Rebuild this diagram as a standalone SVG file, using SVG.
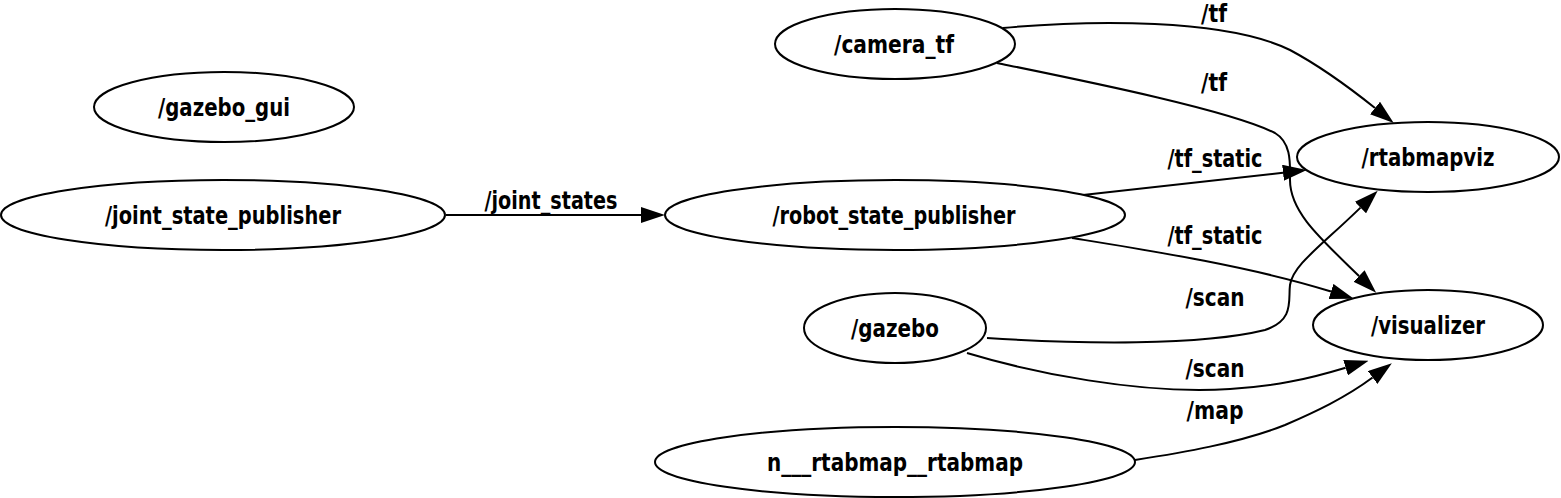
<svg xmlns="http://www.w3.org/2000/svg" width="1561" height="498" viewBox="0 0 1561 498">
<defs>
<style>
.node ellipse{fill:#fff;stroke:#000;stroke-width:2}
text{font-family:"DejaVu Sans","Liberation Sans",sans-serif;font-weight:bold;font-size:25px;fill:#000;text-anchor:middle}
.edges path{fill:none;stroke:#000;stroke-width:2}
</style>
<marker id="arr" viewBox="0 0 24 16" refX="0" refY="8" markerWidth="24" markerHeight="16" markerUnits="userSpaceOnUse" orient="auto">
<path d="M0,0 L24,8 L0,16 z" fill="#000"/>
</marker>
</defs>
<rect width="1561" height="498" fill="#fff"/>
<g class="edges">
<path d="M446,215 L641,215" marker-end="url(#arr)"/>
<text x="551" y="209" textLength="133" lengthAdjust="spacingAndGlyphs">/joint_states</text>
<path d="M1003,28 C1090,20 1225,18 1290,50 C1320,66 1350,88 1375,108" marker-end="url(#arr)"/>
<text x="1214" y="22" textLength="26" lengthAdjust="spacingAndGlyphs">/tf</text>
<path d="M997,63 C1080,80 1230,110 1275,133 C1292,143 1290,165 1290,180 C1290,212 1320,238 1359,276" marker-end="url(#arr)"/>
<text x="1214" y="91" textLength="26" lengthAdjust="spacingAndGlyphs">/tf</text>
<path d="M1083,195 L1283,172.7" marker-end="url(#arr)"/>
<text x="1215" y="167" textLength="95" lengthAdjust="spacingAndGlyphs">/tf_static</text>
<path d="M1072,238 C1140,249 1250,266 1331,291.5" marker-end="url(#arr)"/>
<text x="1215" y="244" textLength="95" lengthAdjust="spacingAndGlyphs">/tf_static</text>
<path d="M987,338 C1080,344 1200,346 1265,330 C1295,320 1288,300 1290,285 C1293,265 1320,247 1360.5,207.6" marker-end="url(#arr)"/>
<text x="1215" y="306" textLength="59" lengthAdjust="spacingAndGlyphs">/scan</text>
<path d="M967,353 C1030,372 1140,395 1230,389 C1275,386 1305,380 1345.6,367.7" marker-end="url(#arr)"/>
<text x="1215" y="377" textLength="59" lengthAdjust="spacingAndGlyphs">/scan</text>
<path d="M1135,460 C1180,453 1240,443 1285,425 C1315,412 1345,398 1372.6,377.5" marker-end="url(#arr)"/>
<text x="1215" y="419" textLength="57" lengthAdjust="spacingAndGlyphs">/map</text>
</g>
<g id="gazebo_gui" class="node"><ellipse cx="224" cy="107" rx="130" ry="35"/><text x="224" y="116" textLength="132" lengthAdjust="spacingAndGlyphs">/gazebo_gui</text></g>
<g id="joint_state_publisher" class="node"><ellipse cx="223" cy="215" rx="222" ry="35"/><text x="223" y="224" textLength="236" lengthAdjust="spacingAndGlyphs">/joint_state_publisher</text></g>
<g id="robot_state_publisher" class="node"><ellipse cx="895" cy="215" rx="230" ry="35"/><text x="894" y="224" textLength="243" lengthAdjust="spacingAndGlyphs">/robot_state_publisher</text></g>
<g id="camera_tf" class="node"><ellipse cx="895" cy="44" rx="120" ry="35"/><text x="894" y="53" textLength="120" lengthAdjust="spacingAndGlyphs">/camera_tf</text></g>
<g id="gazebo" class="node"><ellipse cx="895" cy="328" rx="91" ry="35"/><text x="895" y="337" textLength="88" lengthAdjust="spacingAndGlyphs">/gazebo</text></g>
<g id="rtabmap" class="node"><ellipse cx="895" cy="462" rx="240" ry="35"/><text x="895" y="471" textLength="256" lengthAdjust="spacingAndGlyphs">n___rtabmap__rtabmap</text></g>
<g id="rtabmapviz" class="node"><ellipse cx="1428" cy="157" rx="131" ry="35"/><text x="1428" y="166" textLength="133" lengthAdjust="spacingAndGlyphs">/rtabmapviz</text></g>
<g id="visualizer" class="node"><ellipse cx="1428" cy="325" rx="115" ry="35"/><text x="1428" y="334" textLength="114" lengthAdjust="spacingAndGlyphs">/visualizer</text></g>
</svg>
